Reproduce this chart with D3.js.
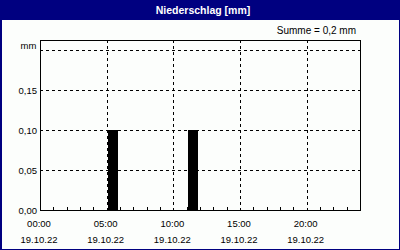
<!DOCTYPE html>
<html><head><meta charset="utf-8">
<script src="https://cdn.jsdelivr.net/npm/d3@7"></script>
<style>html,body{margin:0;padding:0;background:#fff;}svg{display:block;}</style>
</head><body>
<script>
const title = "Niederschlag [mm]";
const sumLabel = "Summe = 0,2 mm";
const unitLabel = "mm";
const barStartHours = [5.1, 11.1];
const barValues = [0.1, 0.1];
const barDurationHours = 0.72;
const yTicks = [0, 0.05, 0.10, 0.15];
const yTickLabels = ["0,00", "0,05", "0,10", "0,15"];
const yGridValues = [0.05, 0.10, 0.15, 0.20];
const xMajorHours = [0, 5, 10, 15, 20];
const xTimeLabels = ["00:00", "05:00", "10:00", "15:00", "20:00"];
const xDateLabels = ["19.10.22", "19.10.22", "19.10.22", "19.10.22", "19.10.22"];
const xMinorHours = d3.range(1, 24).filter(h => h % 5 !== 0);

(function () {
const W = 400, H = 250;
const svg = d3.select("body").append("svg").attr("width", W).attr("height", H)
  .style("font-family", "'Liberation Sans', Arial, sans-serif");

svg.append("rect").attr("x", 0).attr("y", 0).attr("width", W).attr("height", H).attr("fill", "#fcfefc");
svg.append("rect").attr("x", 0).attr("y", 0).attr("width", W).attr("height", 20).attr("fill", "#000080");
svg.append("rect").attr("x", 0.5).attr("y", 0.5).attr("width", W - 1).attr("height", H - 1)
  .attr("fill", "none").attr("stroke", "#000080").attr("stroke-width", 1);
svg.append("line").attr("x1", 1.5).attr("x2", 1.5).attr("y1", 0).attr("y2", H).attr("stroke", "#000080");

svg.append("text").attr("x", 203).attr("y", 13.5).attr("text-anchor", "middle")
  .attr("fill", "#fff").attr("font-weight", "bold").attr("font-size", "10.5px").text(title);
svg.append("text").attr("x", 356).attr("y", 34).attr("text-anchor", "end")
  .attr("fill", "#000").attr("font-size", "10px").text(sumLabel);

const pl = 40, pr = 360, pt = 40, pb = 210;
const x = d3.scaleLinear().domain([0, 24]).range([pl, pr]);
const y = d3.scaleLinear().domain([0, 0.2125]).range([pb, pt]);

const g = svg.append("g").attr("shape-rendering", "crispEdges");

g.selectAll("line.hg").data(yGridValues).enter().append("line")
  .attr("x1", pl).attr("x2", pr)
  .attr("y1", d => Math.round(y(d)) + 0.5).attr("y2", d => Math.round(y(d)) + 0.5)
  .attr("stroke", "#000").attr("stroke-dasharray", "3,3");
g.selectAll("line.vg").data(xMajorHours.filter(h => h > 0)).enter().append("line")
  .attr("x1", d => Math.round(x(d)) + 0.5).attr("x2", d => Math.round(x(d)) + 0.5)
  .attr("y1", pt).attr("y2", pb)
  .attr("stroke", "#000").attr("stroke-dasharray", "3,3");

g.selectAll("rect.bar").data(barStartHours).enter().append("rect")
  .attr("x", d => Math.round(x(d)))
  .attr("width", d => Math.round(x(d + barDurationHours)) - Math.round(x(d)))
  .attr("y", (d, i) => Math.round(y(barValues[i])))
  .attr("height", (d, i) => pb - Math.round(y(barValues[i])))
  .attr("fill", "#000");

g.selectAll("line.mt").data(xMinorHours).enter().append("line")
  .attr("x1", d => Math.round(x(d)) + 0.5).attr("x2", d => Math.round(x(d)) + 0.5)
  .attr("y1", pb - 3).attr("y2", pb)
  .attr("stroke", "#000");

g.append("rect").attr("x", pl + 0.5).attr("y", pt + 0.5)
  .attr("width", pr - pl).attr("height", pb - pt)
  .attr("fill", "none").attr("stroke", "#000");

svg.selectAll("text.yl").data(yTicks).enter().append("text")
  .attr("x", 18.5).attr("y", d => y(d) + 4)
  .attr("font-size", "9.5px").attr("fill", "#000")
  .text((d, i) => yTickLabels[i]);
svg.append("text").attr("x", 20.5).attr("y", y(0.2) - 1.5)
  .attr("font-size", "9.5px").attr("fill", "#000").text(unitLabel);

svg.selectAll("text.xt").data(xMajorHours).enter().append("text")
  .attr("x", d => x(d) - 1).attr("y", 227).attr("text-anchor", "middle")
  .attr("font-size", "9.5px").attr("fill", "#000")
  .text((d, i) => xTimeLabels[i]);
svg.selectAll("text.xd").data(xMajorHours).enter().append("text")
  .attr("x", d => x(d) - 1).attr("y", 242.5).attr("text-anchor", "middle")
  .attr("font-size", "9.5px").attr("fill", "#000")
  .text((d, i) => xDateLabels[i]);
})();
</script>
</body></html>
